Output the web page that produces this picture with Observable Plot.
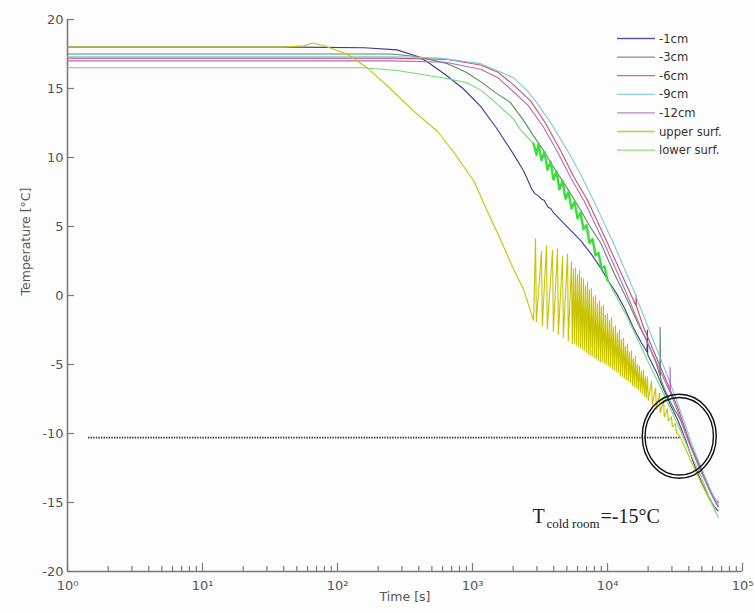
<!DOCTYPE html>
<html><head><meta charset="utf-8">
<script src="https://cdn.jsdelivr.net/npm/d3@7"></script>
<script src="https://cdn.jsdelivr.net/npm/@observablehq/plot@0.6"></script>
<style>
html,body{margin:0;padding:0;background:#fdfdfd;}
#chart svg{display:block;}
</style></head><body><div id="chart"></div>
<script>
// ---------- data: [log10(time / s), temperature °C] ----------
const seriesNames  = ["-1cm", "-3cm", "-6cm", "-9cm", "-12cm", "upper surf.", "lower surf."];
const seriesColors = ["#3c3c90", "#5b8c5b", "#c8506c", "#7ccadc", "#b06cc4", "#c8c400", "#70dc70"];

const minus1cm = [[0,18.0],[1.70,18.0],[2.20,17.95],[2.44,17.8],[2.60,17.3],[2.67,16.9],[2.80,16.0],[2.93,15.0],[3.06,13.7],[3.18,12.1],[3.30,10.3],[3.38,9.0],[3.44,7.7],[3.46,7.4],[3.49,7.2],[3.51,7.0],[3.53,6.9],[3.56,6.4],[3.58,6.3],[3.60,6.0],[3.65,5.5],[3.72,4.8],[3.80,4.0],[3.88,3.0],[3.95,2.0],[4.01,1.0],[4.07,0.1],[4.13,-1.0],[4.19,-2.3],[4.25,-3.4],[4.293,-4.1],[4.295,-2.5],[4.298,-4.3],[4.36,-5.5],[4.42,-6.9],[4.47,-8.0],[4.52,-9.0],[4.58,-10.5],[4.64,-12.2],[4.70,-13.6],[4.75,-14.6],[4.79,-15.3],[4.82,-15.6]];
const minus3cm = [[0,17.5],[2.40,17.5],[2.60,17.3],[2.815,16.8],[2.95,16.2],[3.06,15.5],[3.17,14.7],[3.28,14.0],[3.37,12.8],[3.45,11.6],[3.52,10.6],[3.60,9.3],[3.70,7.8],[3.80,6.2],[3.87,5.0],[3.95,3.8],[4.05,1.6],[4.15,-0.4],[4.22,-1.9],[4.30,-3.5],[4.36,-4.9],[4.388,-5.8],[4.390,-2.3],[4.393,-6.0],[4.415,-6.6],[4.47,-7.8],[4.54,-9.0],[4.62,-11.0],[4.69,-12.5],[4.76,-14.2],[4.82,-15.3]];
const minus6cm = [[0,17.2],[2.40,17.2],[2.815,17.1],[3.06,16.7],[3.185,16.2],[3.30,15.3],[3.43,14.1],[3.54,12.5],[3.652,10.5],[3.75,8.6],[3.852,6.9],[4.0,3.8],[4.148,0.6],[4.210,-0.7],[4.212,0.0],[4.215,-0.8],[4.267,-2.3],[4.393,-5.2],[4.519,-8.1],[4.615,-10.8],[4.689,-12.5],[4.763,-14.2],[4.80,-14.8],[4.822,-15.0]];
const minus9cm = [[0,17.3],[2.45,17.3],[2.76,17.2],[3.06,16.8],[3.30,15.8],[3.40,14.9],[3.467,14.1],[3.58,12.5],[3.704,10.5],[3.80,8.8],[3.896,6.9],[4.044,3.8],[4.193,0.4],[4.341,-3.3],[4.467,-6.4],[4.563,-9.0],[4.63,-10.9],[4.70,-12.6],[4.77,-14.2],[4.822,-15.2]];
const minus12cm = [[0,17.0],[2.40,17.0],[2.80,16.9],[3.06,16.4],[3.185,15.8],[3.30,14.8],[3.41,13.8],[3.52,12.3],[3.63,10.4],[3.73,8.5],[3.83,6.8],[3.98,3.7],[4.13,0.4],[4.25,-2.4],[4.37,-5.0],[4.462,-7.0],[4.464,-5.2],[4.467,-7.1],[4.52,-8.4],[4.60,-10.6],[4.68,-12.5],[4.75,-14.0],[4.80,-15.0],[4.822,-15.3]];
const upperSurf = [[0,18.0],[1.60,18.0],[1.75,18.1],[1.82,18.3],[1.90,18.1],[2.07,17.5],[2.22,16.5],[2.39,15.0],[2.56,13.4],[2.74,11.9],[2.86,10.4],[3.01,8.3],[3.11,6.1],[3.21,4.0],[3.30,2.0],[3.38,0.4],[3.452,-1.8],
  [3.467,4.1],[3.473,-1.9],[3.511,3.2],[3.517,-2.2],[3.548,3.6],[3.554,-2.4],[3.593,3.3],[3.599,-2.6],[3.630,3.4],[3.636,-2.8],
  [3.667,2.8],[3.673,-3.0],[3.704,3.0],[3.710,-3.3],[3.733,2.4],[3.739,-3.5],[3.748,1.9],[3.754,-3.5],[3.763,2.0],[3.769,-3.6],
  [3.778,1.5],[3.784,-3.7],[3.793,1.8],[3.799,-3.8],[3.807,1.3],[3.813,-3.9],[3.822,1.2],[3.828,-4.0],[3.837,0.7],[3.843,-4.1],
  [3.852,1.0],[3.858,-4.2],[3.866,0.4],[3.872,-4.3],[3.881,0.5],[3.887,-4.4],[3.896,-0.1],[3.902,-4.5],[3.911,0.0],[3.917,-4.6],
  [3.926,-0.6],[3.932,-4.7],[3.941,-0.4],[3.947,-4.8],[3.955,-0.8],[3.961,-4.8],[3.970,-0.7],[3.976,-4.9],[3.985,-1.4],[3.991,-5.0],
  [4.000,-1.3],[4.006,-5.1],[4.015,-1.8],[4.021,-5.2],[4.030,-1.6],[4.036,-5.3],[4.044,-2.3],[4.050,-5.4],[4.059,-2.2],[4.065,-5.5],
  [4.074,-2.7],[4.080,-5.6],[4.089,-2.5],[4.095,-5.8],[4.104,-3.2],[4.110,-5.9],[4.119,-3.1],[4.125,-6.0],[4.133,-3.7],[4.139,-6.1],
  [4.148,-3.5],[4.154,-6.2],[4.163,-4.1],[4.169,-6.3],[4.178,-4.0],[4.184,-6.5],[4.192,-4.6],[4.198,-6.6],[4.207,-4.4],[4.213,-6.7],
  [4.222,-5.0],[4.228,-6.8],[4.237,-5.1],[4.243,-7.0],[4.252,-5.5],[4.258,-7.1],[4.267,-5.4],[4.273,-7.3],[4.281,-5.9],[4.287,-7.4],
  [4.296,-5.9],[4.302,-7.6],[4.326,-6.2],[4.332,-7.9],[4.356,-6.7],[4.362,-8.2],[4.385,-7.1],[4.391,-8.5],[4.415,-7.6],[4.421,-8.8],
  [4.444,-8.2],[4.450,-9.1],[4.474,-8.8],[4.480,-9.5],[4.504,-9.3],[4.510,-9.9],[4.541,-10.3],
  [4.60,-11.6],[4.68,-13.3],[4.75,-14.7],[4.80,-15.5]];
const lowerSurf = [[0,16.5],[2.19,16.5],[2.444,16.3],[2.763,15.8],[2.874,15.6],[2.96,15.4],[3.059,14.9],[3.156,14.1],[3.304,12.8],[3.356,12.0],[3.452,11.0],
  [3.474,10.2],[3.489,11.0],[3.511,9.8],[3.533,10.4],[3.556,9.1],[3.578,9.7],[3.600,8.4],[3.622,9.0],[3.644,7.7],[3.667,8.3],
  [3.689,7.0],[3.711,7.5],[3.733,6.3],[3.756,6.8],[3.778,5.6],[3.800,6.0],[3.822,4.8],[3.844,5.1],[3.867,3.8],[3.889,4.1],
  [3.911,2.9],[3.933,3.1],[3.956,2.0],[3.978,2.1],[4.000,1.1],
  [4.148,-1.6],[4.296,-4.7],[4.415,-7.1],[4.541,-9.8],[4.62,-11.6],[4.689,-13.0],[4.76,-14.8],[4.822,-16.1]];
const seriesData = [minus1cm, minus3cm, minus6cm, minus9cm, minus12cm, upperSurf, lowerSurf];

// axis ticks
const xMajorTicks = [1, 10, 100, 1000, 10000, 100000];
const xMinorMultipliers = [2, 3, 4, 5, 6, 7, 8, 9];
const yTicks = [20, 15, 10, 5, 0, -5, -10, -15, -20];
const superscripts = ["⁰", "¹", "²", "³", "⁴", "⁵"];

// annotations
const freezeLevel = -10.3;             // dotted line level (°C)
const freezeLineFrom = 1.43, freezeLineTo = 34700; // s
const ringCenter = {t: 34000, T: -10.2};
const annotation = {t: 2780, T: -16.05, main: "T", sub: "cold room", rest: "=-15°C"};

// ---------- build rows ----------
const rows = [];
seriesData.forEach((arr, k) => arr.forEach(([lt, T], i) => rows.push({series: seriesNames[k], time: 10 ** lt, temp: T, i})));
const xMinorTicks = xMajorTicks.slice(0, -1).flatMap(d => xMinorMultipliers.map(m => m * d));

const axisGray = "#7a7a7a";
const lineMarks = seriesNames.map((name, k) =>
  Plot.line(rows.filter(r => r.series === name), {x: "time", y: "temp", stroke: seriesColors[k], strokeWidth: 1.1})
);
// thicker, brighter oscillating part of the lower-surface record
const lowerOsc = rows.filter(r => r.series === "lower surf." && r.time >= 10 ** 3.452 && r.time <= 10 ** 4.0);
const serif = "'Liberation Serif', 'Times New Roman', serif";

const plot = Plot.plot({
  width: 755, height: 613,
  marginLeft: 67, marginRight: 13, marginTop: 19, marginBottom: 42,
  style: {background: "transparent", fontFamily: "'DejaVu Sans', Verdana, sans-serif", fontSize: "13px", color: "#555"},
  x: {type: "log", domain: [1, 1e5]},
  y: {domain: [-20, 20]},
  marks: [
    Plot.axisY({ticks: yTicks, tickSize: 0, tickPadding: 4, tickFormat: d => String(d), label: null, fill: "#555", fontSize: 13}),
    Plot.axisX({ticks: xMajorTicks, tickSize: 0, tickPadding: 9, tickFormat: d => "10" + superscripts[Math.round(Math.log10(d))], label: null, fill: "#555", fontSize: 13}),
    // inward ticks
    Plot.ruleY(yTicks, {y: d => d, x1: 1, x2: 1, insetRight: -7, stroke: axisGray, strokeWidth: 1.2}),
    Plot.ruleX(xMajorTicks, {x: d => d, y1: -20, y2: -20, insetTop: -8, stroke: axisGray, strokeWidth: 1.2}),
    Plot.ruleX(xMinorTicks, {x: d => d, y1: -20, y2: -20, insetTop: -5, stroke: axisGray, strokeWidth: 1.2}),
    Plot.ruleX([1], {stroke: axisGray, strokeWidth: 1.6}),
    Plot.ruleY([-20], {stroke: axisGray, strokeWidth: 1.6}),
    Plot.text(["Temperature [°C]"], {frameAnchor: "left", dx: -42, rotate: -90, fill: "#555", fontSize: 12.5}),
    Plot.text(["Time [s]"], {frameAnchor: "bottom", dy: 29, fill: "#555", fontSize: 12.5}),
    Plot.ruleY([freezeLevel], {x1: freezeLineFrom, x2: freezeLineTo, stroke: "#2c2c66", strokeWidth: 1.6, strokeDasharray: "1.4,1.2"}),
    ...lineMarks,
    Plot.line(lowerOsc, {x: "time", y: "temp", stroke: "#3ade3a", strokeWidth: 2.4}),
    Plot.dot([ringCenter], {x: "t", y: "T", r: 39.5, stroke: "#111", strokeWidth: 1.4, fill: "none"}),
    Plot.dot([ringCenter], {x: "t", y: "T", r: 36.5, stroke: "#111", strokeWidth: 1.4, fill: "none"}),
    Plot.text([annotation], {x: "t", y: "T", text: "main", textAnchor: "start", fontSize: 20, fontFamily: serif, fill: "#222"}),
    Plot.text([annotation], {x: "t", y: "T", text: "sub", textAnchor: "start", dx: 14, dy: 7, fontSize: 13, fontFamily: serif, fill: "#222"}),
    Plot.text([annotation], {x: "t", y: "T", text: "rest", textAnchor: "start", dx: 68, fontSize: 20, fontFamily: serif, fill: "#222"})
  ]
});

// make the ring slightly elliptical, as in the reference
d3.select(plot).selectAll("circle").each(function () {
  const c = d3.select(this);
  const r = +c.attr("r");
  d3.select(this.parentNode).insert("ellipse", () => this)
    .attr("cx", c.attr("cx")).attr("cy", c.attr("cy"))
    .attr("rx", r * 0.937).attr("ry", r * 1.063)
    .attr("fill", "none").attr("stroke", "#111").attr("stroke-width", 1.4);
  c.remove();
});

// legend in the upper right corner of the axes
const lg = d3.select(plot).append("g")
  .attr("font-family", "'DejaVu Sans', Verdana, sans-serif").attr("font-size", 11.6).attr("text-anchor", "start");
seriesNames.forEach((name, k) => {
  const y = 38.5 + k * 18.6;
  lg.append("line").attr("x1", 617).attr("x2", 655).attr("y1", y).attr("y2", y)
    .attr("stroke", seriesColors[k]).attr("stroke-width", 1.3).attr("opacity", 0.85);
  lg.append("text").attr("x", 659).attr("y", y).attr("dy", "0.35em").attr("fill", "#333").text(name);
});

document.getElementById("chart").appendChild(plot);
</script></body></html>
